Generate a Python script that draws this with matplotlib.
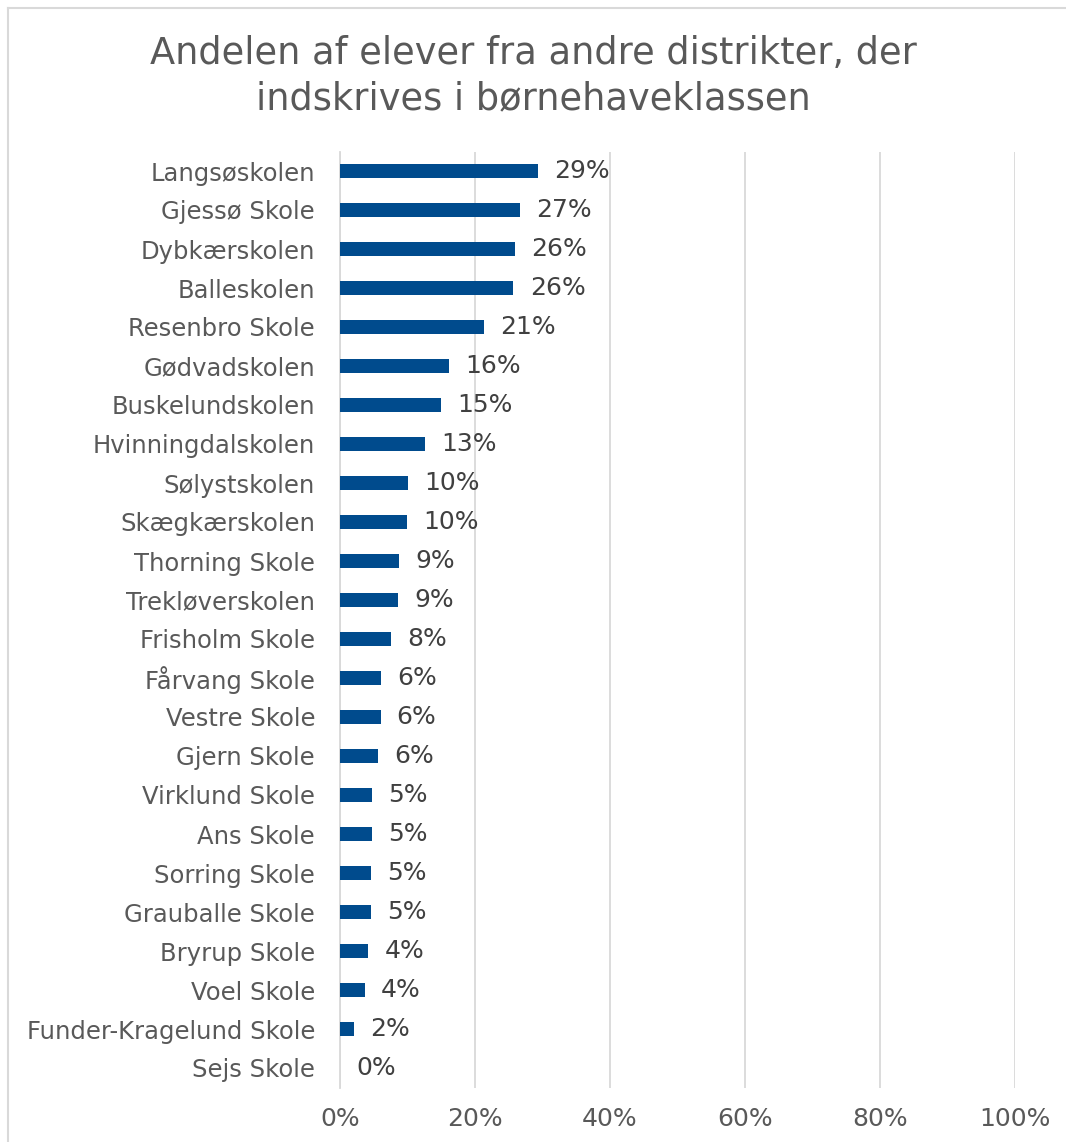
import matplotlib.pyplot as plt
from matplotlib.lines import Line2D

# data, top to bottom as in the chart
schools = [
    "Langsøskolen", "Gjessø Skole", "Dybkærskolen", "Balleskolen",
    "Resenbro Skole", "Gødvadskolen", "Buskelundskolen", "Hvinningdalskolen",
    "Sølystskolen", "Skægkærskolen", "Thorning Skole", "Trekløverskolen",
    "Frisholm Skole", "Fårvang Skole", "Vestre Skole", "Gjern Skole",
    "Virklund Skole", "Ans Skole", "Sorring Skole", "Grauballe Skole",
    "Bryrup Skole", "Voel Skole", "Funder-Kragelund Skole", "Sejs Skole",
]
shares = [29.3, 26.6, 25.9, 25.7, 21.3, 16.2, 14.9, 12.6,
          10.1, 9.9, 8.7, 8.6, 7.6, 6.1, 6.0, 5.6,
          4.7, 4.7, 4.6, 4.6, 4.2, 3.7, 2.1, 0.0]
xticks = [0, 20, 40, 60, 80, 100]

BAR = "#004B8D"
GRID = "#D9D9D9"
TXT = "#595959"

plt.rcParams['font.family'] = ['DejaVu Sans']

W, H = 1066, 1142
fig = plt.figure(figsize=(W / 100, H / 100), dpi=100)
ax = fig.add_axes([340 / W, 1 - 1087.5 / H, 675 / W, 936 / H])

pos = list(range(len(schools)))
ax.barh(pos, shares, height=0.36, color=BAR, zorder=3)
for p, v in zip(pos, shares):
    ax.text(v + 2.4, p, f"{int(v + 0.5)}%", va='center', ha='left',
            fontsize=18, color="#404040")

ax.set_xlim(0, 100)
ax.set_ylim(len(schools) - 0.5, -0.5)
ax.set_yticks(pos)
ax.set_yticklabels(schools, fontsize=17.5, color=TXT)
ax.set_xticks(xticks)
ax.set_xticklabels([f"{t}%" for t in xticks], fontsize=18, color=TXT)
ax.tick_params(axis='both', length=0)
ax.tick_params(axis='y', pad=18)
ax.tick_params(axis='x', pad=14)
ax.grid(axis='x', color=GRID, linewidth=1.3, zorder=0)
for s in ["top", "right", "bottom"]:
    ax.spines[s].set_visible(False)
ax.spines["left"].set_color(GRID)
ax.spines["left"].set_linewidth(1.3)

fig.text(0.5, 1 - 76 / H, "Andelen af elever fra andre distrikter, der\nindskrives i børnehaveklassen",
         ha='center', va='center', fontsize=26.5, color=TXT, linespacing=1.3)

# chart frame (only left and top edges visible in the crop)
fig.lines.append(Line2D([7.5 / W, 7.5 / W], [0, 1 - 7.5 / H], transform=fig.transFigure,
                        color=GRID, linewidth=1.5))
fig.lines.append(Line2D([7.5 / W, 1], [1 - 7.5 / H, 1 - 7.5 / H], transform=fig.transFigure,
                        color=GRID, linewidth=1.5))

fig.savefig("out.png", dpi=100)
